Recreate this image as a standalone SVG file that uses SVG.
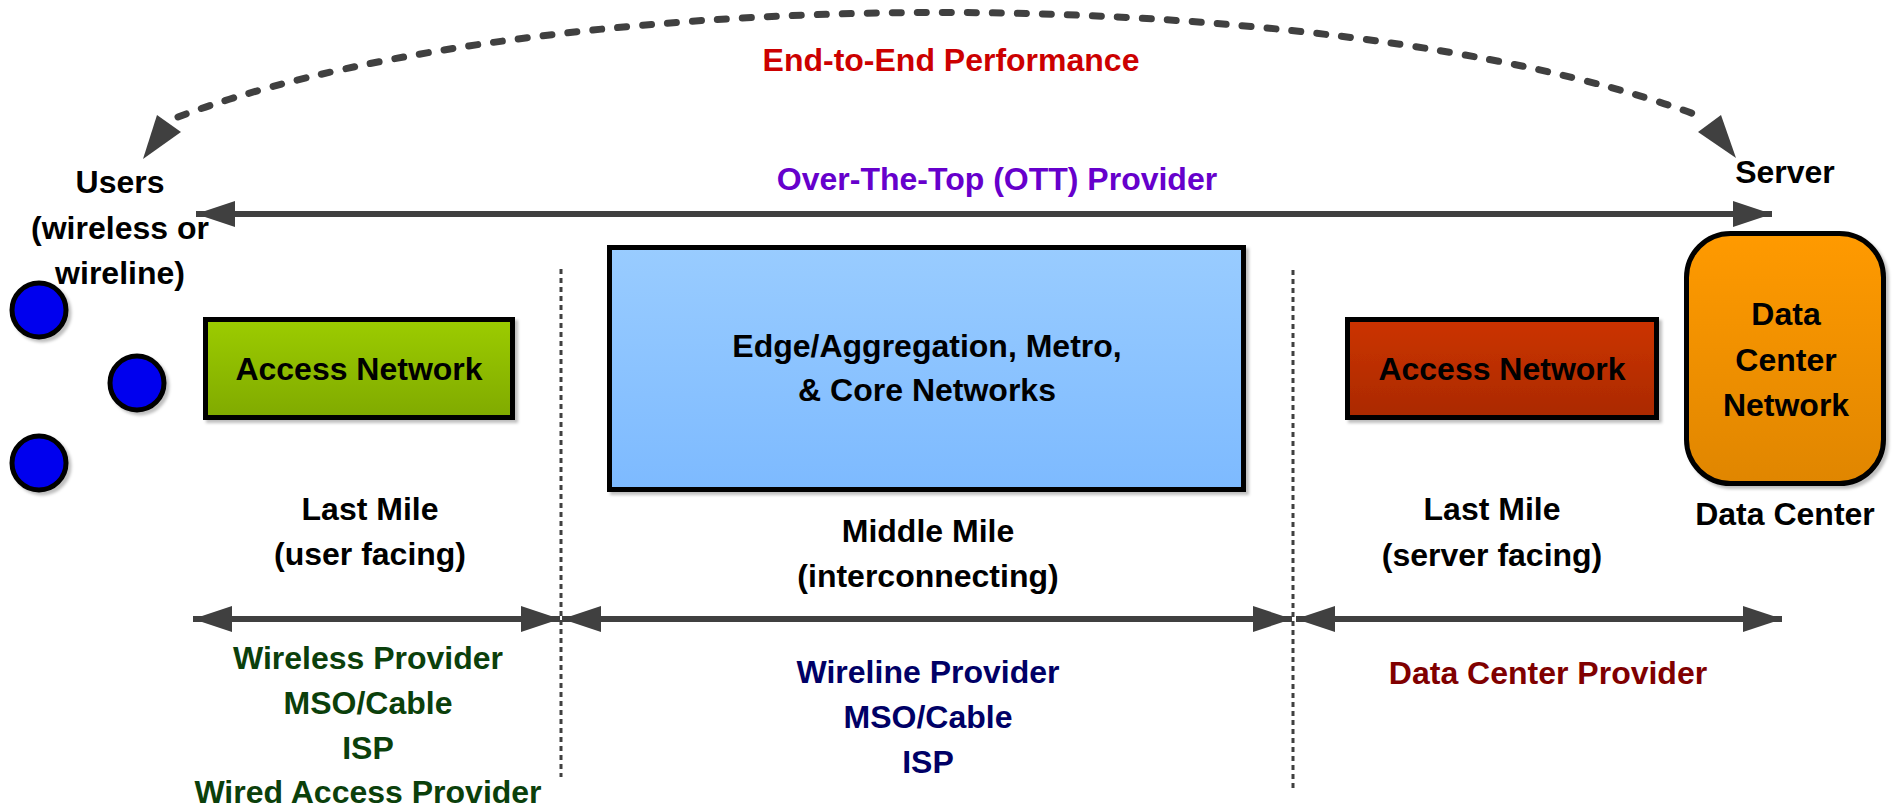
<svg xmlns="http://www.w3.org/2000/svg" width="1893" height="811" viewBox="0 0 1893 811">
<style>
text{font-family:"Liberation Sans",Arial,sans-serif;font-weight:bold;font-size:32px;text-anchor:middle;fill:#000}
.red{fill:#CC0000}.purple{fill:#6600CC}.green{fill:#0B400B}.navy{fill:#000066}.maroon{fill:#800000}
.box{stroke:#000;stroke-width:5}
.line{stroke:#404040;stroke-width:6;fill:none}
.dash{stroke:#404040;stroke-width:7;fill:none;stroke-dasharray:9 16;stroke-linecap:round}
.dot{stroke:#404040;stroke-width:3;fill:none;stroke-dasharray:5 4}
.head{fill:#404040}
</style>
<defs>
<linearGradient id="gGreen" x1="0" y1="0" x2="0" y2="1"><stop offset="0" stop-color="#9CCC00"/><stop offset="1" stop-color="#80AA00"/></linearGradient>
<linearGradient id="gBlue" x1="0" y1="0" x2="0" y2="1"><stop offset="0" stop-color="#99CCFF"/><stop offset="1" stop-color="#7DBAFF"/></linearGradient>
<linearGradient id="gRed" x1="0" y1="0" x2="0" y2="1"><stop offset="0" stop-color="#CC3300"/><stop offset="1" stop-color="#AA2A00"/></linearGradient>
<linearGradient id="gOrange" x1="0" y1="0" x2="0" y2="1"><stop offset="0" stop-color="#FF9A00"/><stop offset="1" stop-color="#E08600"/></linearGradient>
<filter id="sh" x="-10%" y="-10%" width="130%" height="130%"><feDropShadow dx="3" dy="3" stdDeviation="1.5" flood-color="#000" flood-opacity="0.25"/></filter>
<marker id="ah" viewBox="0 0 39 26" refX="39" refY="13" markerWidth="39" markerHeight="26" markerUnits="userSpaceOnUse" orient="auto-start-reverse"><path d="M0 0 L39 13 L0 26 Z" fill="#404040"/></marker>
</defs>

<g id="connectors">
<path class="dash" d="M 178 117 A 919 237 0 0 1 1702 117"/>
<polygon class="head" points="143,159 157,115 181,132"/>
<polygon class="head" points="1736,158 1698,132 1721,115"/>
<line class="line" x1="196" y1="214" x2="1772" y2="214" marker-start="url(#ah)" marker-end="url(#ah)"/>
<line class="line" x1="193" y1="619" x2="560" y2="619" marker-start="url(#ah)" marker-end="url(#ah)"/>
<line class="line" x1="562" y1="619" x2="1292" y2="619" marker-start="url(#ah)" marker-end="url(#ah)"/>
<line class="line" x1="1296" y1="619" x2="1782" y2="619" marker-start="url(#ah)" marker-end="url(#ah)"/>
<line class="dot" x1="561" y1="269" x2="561" y2="777"/>
<line class="dot" x1="1293" y1="270" x2="1293" y2="788"/>
</g>

<g id="end-to-end"><text class="red" x="951" y="71">End-to-End Performance</text></g>
<g id="ott"><text class="purple" x="997" y="190">Over-The-Top (OTT) Provider</text></g>

<g id="users">
<text x="120" y="193">Users</text>
<text x="120" y="239">(wireless or</text>
<text x="120" y="284">wireline)</text>
<circle cx="39" cy="310" r="27" fill="#0000EE" stroke="#000" stroke-width="5" filter="url(#sh)"/>
<circle cx="137" cy="383" r="27" fill="#0000EE" stroke="#000" stroke-width="5" filter="url(#sh)"/>
<circle cx="39" cy="463" r="27" fill="#0000EE" stroke="#000" stroke-width="5" filter="url(#sh)"/>
</g>

<g id="access-user">
<rect class="box" x="205.5" y="319.5" width="307" height="98" fill="url(#gGreen)" filter="url(#sh)"/>
<text x="359" y="380">Access Network</text>
</g>

<g id="core">
<rect class="box" x="609.5" y="247.5" width="634" height="242" fill="url(#gBlue)" filter="url(#sh)"/>
<text x="927" y="357">Edge/Aggregation, Metro,</text>
<text x="927" y="401">&amp; Core Networks</text>
</g>

<g id="access-server">
<rect class="box" x="1347.5" y="319.5" width="309" height="98" fill="url(#gRed)" filter="url(#sh)"/>
<text x="1502" y="380">Access Network</text>
</g>

<g id="datacenter">
<text x="1785" y="183">Server</text>
<rect class="box" x="1686.5" y="233.5" width="197" height="250" rx="44" fill="url(#gOrange)" filter="url(#sh)"/>
<text x="1786" y="325">Data</text>
<text x="1786" y="371">Center</text>
<text x="1786" y="416">Network</text>
<text x="1785" y="525">Data Center</text>
</g>

<g id="last-mile-user">
<text x="370" y="520">Last Mile</text>
<text x="370" y="565">(user facing)</text>
<text class="green" x="368" y="669">Wireless Provider</text>
<text class="green" x="368" y="714">MSO/Cable</text>
<text class="green" x="368" y="759">ISP</text>
<text class="green" x="368" y="803">Wired Access Provider</text>
</g>

<g id="middle-mile">
<text x="928" y="542">Middle Mile</text>
<text x="928" y="587">(interconnecting)</text>
<text class="navy" x="928" y="683">Wireline Provider</text>
<text class="navy" x="928" y="728">MSO/Cable</text>
<text class="navy" x="928" y="773">ISP</text>
</g>

<g id="last-mile-server">
<text x="1492" y="520">Last Mile</text>
<text x="1492" y="566">(server facing)</text>
<text class="maroon" x="1548" y="684">Data Center Provider</text>
</g>
</svg>
